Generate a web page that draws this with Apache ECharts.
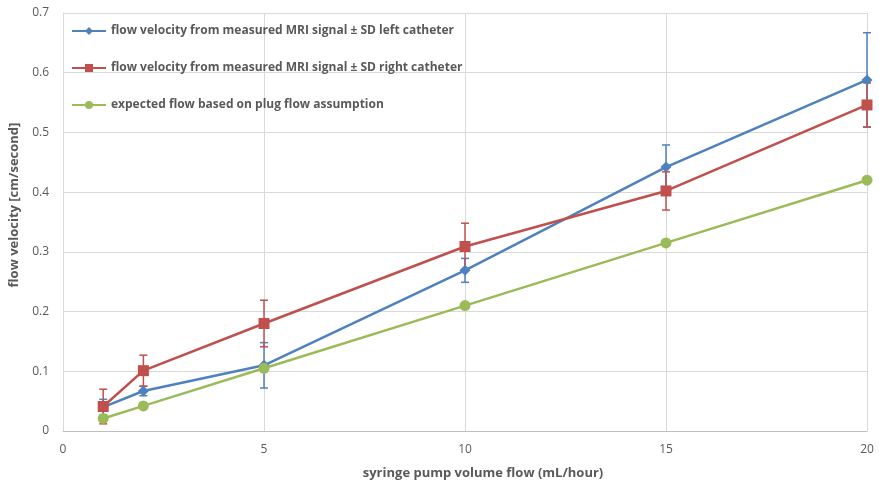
<!DOCTYPE html>
<html><head><meta charset="utf-8">
<script src="https://cdn.jsdelivr.net/npm/echarts@6/dist/echarts.min.js"></script>
<style>html,body{margin:0;padding:0;background:#fff}#c{width:879px;height:485px}</style>
</head><body><div id="c"></div>
<script>
const xValues = [1, 2, 5, 10, 15, 20];
const leftVel = [0.040, 0.067, 0.110, 0.269, 0.442, 0.588];
const leftSD = [0.013, 0.008, 0.038, 0.020, 0.037, 0.079];
const rightVel = [0.041, 0.101, 0.180, 0.309, 0.402, 0.546];
const rightSD = [0.029, 0.026, 0.039, 0.039, 0.032, 0.037];
const expected = [0.021, 0.042, 0.105, 0.210, 0.315, 0.420];
const names = ['flow velocity from measured MRI signal ± SD left catheter',
  'flow velocity from measured MRI signal ± SD right catheter',
  'expected flow based on plug flow assumption'];
const BLUE = '#4F81BD', RED = '#C0504D', GREEN = '#9BBB59';
const FONT = '"Open Sans", sans-serif';

function errSeries(vals, sds, color) {
  return {
    type: 'custom', silent: true, z: 1,
    data: xValues.map((x, i) => [x, vals[i] - sds[i], vals[i] + sds[i]]),
    renderItem: function (params, api) {
      const lo = api.coord([api.value(0), api.value(1)]);
      const hi = api.coord([api.value(0), api.value(2)]);
      const w = 4;
      const st = { stroke: color, lineWidth: 1.5 };
      return { type: 'group', children: [
        { type: 'line', shape: { x1: lo[0], y1: lo[1], x2: hi[0], y2: hi[1] }, style: st },
        { type: 'line', shape: { x1: lo[0] - w, y1: lo[1], x2: lo[0] + w, y2: lo[1] }, style: st },
        { type: 'line', shape: { x1: hi[0] - w, y1: hi[1], x2: hi[0] + w, y2: hi[1] }, style: st }
      ]};
    }
  };
}
function lineSeries(name, vals, color, symbol, size) {
  return {
    name, type: 'line', z: 3, data: xValues.map((x, i) => [x, vals[i]]),
    symbol, symbolSize: size, color,
    lineStyle: { width: 2.5, color }, itemStyle: { color }
  };
}
const chart = echarts.init(document.getElementById('c'));
chart.setOption({
  animation: false,
  grid: { left: 62, right: 12, top: 13, bottom: 54, containLabel: false },
  legend: {
    orient: 'vertical', left: 66, top: 20, itemGap: 25, itemWidth: 34, itemHeight: 10,
    data: names,
    textStyle: { fontFamily: FONT, fontWeight: 'bold', fontSize: 12, color: '#595959' }
  },
  xAxis: {
    type: 'value', min: 0, max: 20, interval: 5,
    name: 'syringe pump volume flow (mL/hour)', nameLocation: 'middle', nameGap: 36,
    nameTextStyle: { fontFamily: FONT, fontWeight: 'bold', fontSize: 13, color: '#595959', padding: [0, 0, 0, 36] },
    axisLine: { show: true, lineStyle: { color: '#BFBFBF' } },
    axisTick: { show: false },
    axisLabel: { fontFamily: FONT, fontSize: 12, color: '#595959', margin: 13 },
    splitLine: { show: true, lineStyle: { color: '#D9D9D9', width: 1 } }
  },
  yAxis: {
    type: 'value', min: 0, max: 0.7, interval: 0.1,
    name: 'flow velocity [cm/second]', nameLocation: 'middle', nameGap: 42, nameRotate: 90,
    nameTextStyle: { fontFamily: FONT, fontWeight: 'bold', fontSize: 13, color: '#595959', padding: [0, 0, 0, 34] },
    axisLine: { show: true, lineStyle: { color: '#D9D9D9' } },
    axisTick: { show: false },
    axisLabel: { fontFamily: FONT, fontSize: 12, color: '#595959', margin: 14 },
    splitLine: { show: true, lineStyle: { color: '#D9D9D9', width: 1 } }
  },
  series: [
    errSeries(leftVel, leftSD, BLUE),
    errSeries(rightVel, rightSD, RED),
    lineSeries(names[0], leftVel, BLUE, 'diamond', 11),
    lineSeries(names[1], rightVel, RED, 'rect', 11),
    lineSeries(names[2], expected, GREEN, 'circle', 11)
  ]
});
</script></body></html>
